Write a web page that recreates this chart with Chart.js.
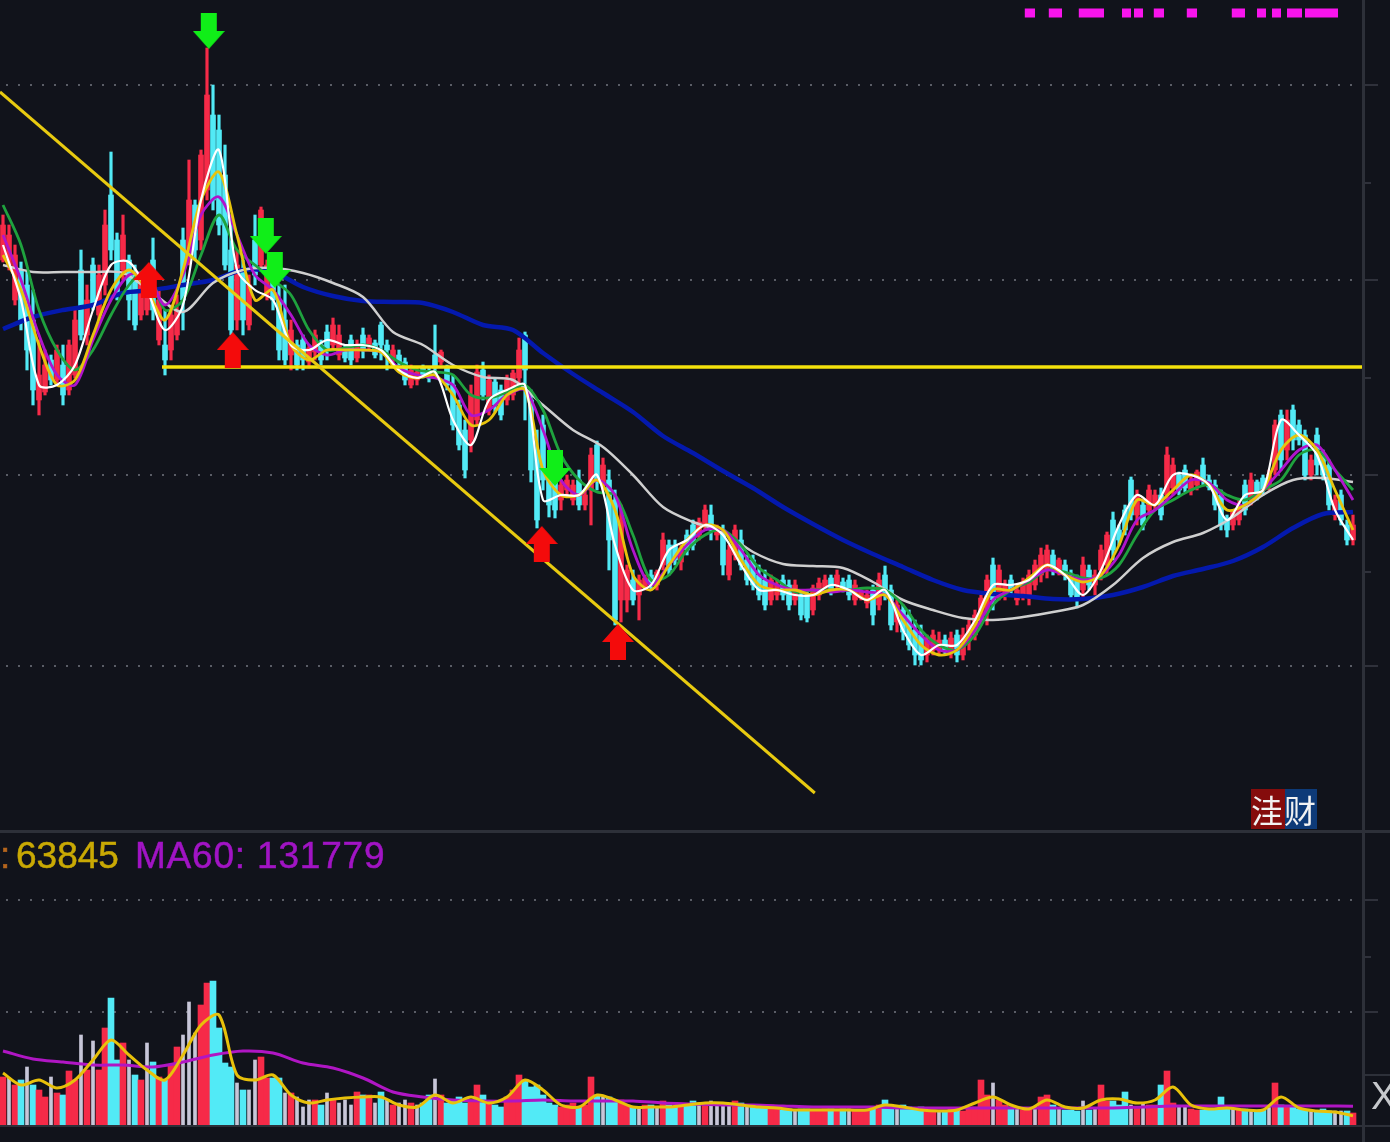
<!DOCTYPE html>
<html>
<head>
<meta charset="utf-8">
<script src="https://cdn.jsdelivr.net/npm/chart.js@4"></script>
<style>
html,body{margin:0;padding:0;background:#11131b;overflow:hidden}
#wrap{position:relative;width:1390px;height:1142px;overflow:hidden;background:#11131b}
canvas{position:absolute;left:0}
.rule{position:absolute;background:#2d3039}
.lbl{position:absolute;top:833px;font:37px/46px "Liberation Sans",sans-serif;white-space:nowrap;-webkit-text-stroke:.5px currentColor}
#logo{position:absolute;left:1251px;top:789px;width:66px;height:40px;font:32px/40px "Noto Sans CJK SC",sans-serif;color:#f2f2f2;text-align:center;letter-spacing:1px;background:linear-gradient(90deg,#850c0c 0,#850c0c 34px,#0d3a78 34px)}
#x{position:absolute;left:1371px;top:1077px;font:38px/38px "Liberation Sans",sans-serif;color:#c6c8cc}
</style>
</head>
<body>
<div id="wrap">
  <canvas id="price" width="1390" height="830" style="top:0"></canvas>
  <canvas id="volume" width="1390" height="310" style="top:832px"></canvas>
  <div class="rule" style="left:0;top:830px;width:1390px;height:3px"></div>
  <div class="rule" style="left:0;top:1125px;width:1390px;height:2px"></div>
  <div class="rule" style="left:1365px;top:1074px;width:25px;height:2px"></div>
  <div class="lbl" style="left:0;color:#b5651d">:</div>
  <div class="lbl" style="left:16px;color:#c9a904">63845</div>
  <div class="lbl" style="left:135px;color:#a114c4;letter-spacing:.8px">MA60: 131779</div>
  <div id="logo">洼财</div>
  <div id="x">X</div>
</div>
<script>
const highs = [615,605,585,568,560,540,490,480,475,485,
485,490,520,580,545,572,565,620,678,597,
615,575,565,555,560,592,540,520,525,535,
602,670,630,680,782,745,715,685,615,580,
570,555,615,623,570,560,545,545,510,490,
495,485,500,490,505,512,505,485,495,490,
502,495,490,508,490,485,480,472,465,462,
465,462,505,480,465,455,430,410,445,465,
468,455,452,445,455,460,492,498,440,400,
415,360,360,350,355,350,360,340,382,389,
372,360,340,325,265,260,255,255,260,260,
297,290,290,285,300,310,312,325,325,305,
305,285,305,300,275,275,265,260,255,250,
255,250,250,240,240,245,252,255,255,260,
252,255,250,240,240,245,257,264,245,230,
225,220,210,205,195,200,198,195,198,200,
202,210,220,235,255,272,265,250,255,245,
252,260,270,282,285,280,272,270,260,255,
273,265,260,285,298,318,305,325,353,340,
330,345,340,342,383,372,358,365,355,360,
372,355,350,340,315,320,330,350,357,350,
355,360,410,420,420,425,410,400,375,402,
380,370,335,340,310,315];
const lows = [568,560,525,500,460,425,415,435,445,445,
425,435,452,490,485,520,510,535,570,530,
550,510,500,510,515,510,485,455,470,490,
500,565,570,580,630,620,595,560,495,500,
495,500,545,560,530,520,470,465,460,460,
460,462,470,465,470,480,470,468,465,468,
472,480,472,470,460,468,465,445,442,445,
452,448,455,465,440,400,380,352,378,405,
430,415,418,410,425,430,445,410,348,302,
340,313,312,320,335,325,320,320,305,340,
340,260,205,208,218,225,210,240,240,240,
260,255,265,260,275,280,290,300,290,290,
255,250,270,260,245,240,230,220,225,230,
230,220,225,210,208,215,230,238,235,240,
238,230,225,230,222,205,220,230,200,198,
190,180,165,165,168,175,175,175,172,168,
170,180,190,205,205,220,230,230,235,225,
230,225,240,248,252,255,255,250,230,222,
230,240,235,250,255,270,285,295,310,305,
300,315,320,310,330,335,335,338,335,340,
345,340,320,300,293,300,305,315,325,330,
335,340,355,360,370,380,385,350,350,355,
350,320,310,305,285,285];
const opens = [570,565,530,560,545,510,430,438,470,450,
465,440,455,560,495,565,515,545,635,590,
560,570,555,515,520,570,490,485,480,495,
590,575,625,590,640,715,700,655,580,510,
560,505,590,565,535,550,530,510,475,485,
490,468,478,485,498,485,475,482,490,472,
495,484,487,505,485,472,475,468,445,450,
462,458,475,468,462,445,425,400,390,410,
460,420,448,440,430,435,452,495,430,380,
405,355,350,330,340,330,350,325,340,385,
345,350,330,230,230,250,235,242,255,245,
265,285,285,268,295,305,295,305,315,295,
300,255,275,290,270,270,255,250,230,235,
250,245,230,235,235,220,235,240,252,245,
248,250,230,232,227,240,225,255,240,208,
220,215,200,195,175,180,180,190,178,195,
175,190,195,210,218,265,238,235,250,230,
235,232,245,255,260,275,260,265,255,250,
240,260,245,260,265,310,300,320,350,315,
325,320,325,335,335,342,355,360,340,345,
365,350,345,335,312,305,310,345,330,348,
352,345,360,415,380,420,405,395,355,395,
375,365,315,335,305,290];
const closes = [605,595,575,510,480,440,455,465,450,480,
435,485,510,495,530,525,555,605,580,535,
595,530,505,550,545,520,530,470,515,520,
530,630,580,675,735,630,605,565,500,565,
510,545,555,620,565,530,480,470,500,465,
470,482,495,470,480,505,495,472,470,485,
480,492,475,485,480,480,468,450,460,458,
455,452,462,478,445,405,385,360,435,458,
435,450,425,415,450,457,480,460,360,310,
350,325,320,345,350,345,325,335,375,350,
365,290,210,310,260,230,250,252,245,258,
290,260,270,282,280,285,308,320,300,302,
265,280,300,265,250,245,235,225,250,245,
235,225,245,215,212,242,247,250,240,255,
240,235,245,238,235,215,250,235,205,225,
198,185,175,170,190,195,190,180,192,175,
195,205,215,232,250,230,260,245,240,240,
248,255,265,275,280,260,270,255,235,230,
265,245,255,280,295,280,290,300,315,335,
305,340,335,315,375,365,340,342,350,358,
350,343,325,305,300,318,325,320,350,335,
340,355,405,370,410,390,390,355,370,365,
355,325,330,310,290,305];

// volume in thousands of shares, same bars as the candles
const volumes = [336,329,280,315,406,280,245,196,336,224,
210,378,315,630,385,588,385,679,889,455,
574,455,350,315,574,441,336,315,420,546,
630,861,644,840,994,1008,679,434,406,294,
245,245,455,476,329,329,329,224,224,196,
126,175,175,140,224,175,154,175,140,231,
210,210,154,231,175,140,154,175,154,140,
154,210,322,210,154,175,196,154,175,280,
210,154,140,126,196,245,350,315,266,280,
210,154,140,126,140,154,126,140,336,210,
196,196,175,175,140,126,126,140,140,126,
168,140,126,140,140,168,154,154,168,140,
154,140,168,154,140,140,126,140,140,126,
105,112,98,112,112,105,98,112,112,98,
112,112,105,98,105,112,140,175,126,112,
140,126,112,126,105,105,98,98,112,112,
98,112,126,315,210,294,175,140,126,112,
105,112,112,196,210,140,112,105,105,98,
168,105,112,280,168,168,140,231,140,126,
154,140,140,280,378,154,126,126,112,105,
105,112,105,196,126,112,112,112,105,105,
105,126,294,140,126,126,112,105,105,98,
112,98,98,98,98,84];

// bars that show as thin pale stripes in the volume pane
const paleBars = [1,4,8,13,15,21,24,30,31,32,39,41,42,47,49,50,51,54,56,57,58,62,64,66,67,69,72,
100,106,109,116,118,119,120,121,124,132,141,149,156,165,169,172,176,180,182,188,190,196,197,205,208,211,218,222,223];

// short averages are sampled every 3 bars
const ma5 = [585,530,445,445,465,520,565,568,540,500,
525,630,680,560,540,530,485,480,490,485,
485,480,460,452,458,410,385,430,440,445,
330,335,335,355,285,240,245,280,290,305,
295,265,240,240,235,235,245,240,230,240,
200,175,185,185,210,245,245,250,265,255,
235,260,305,335,325,355,355,345,310,335,
340,410,395,375,320,290];
const ma10 = [575,540,485,445,450,495,540,560,540,510,
560,630,658,595,530,540,485,470,480,480,
480,478,458,452,455,435,405,410,435,440,
360,335,335,350,320,255,240,265,290,305,
300,270,245,240,240,235,240,240,230,235,
210,185,175,180,205,240,240,252,265,255,
248,255,285,330,325,340,355,345,320,325,
340,380,395,380,340,300];
const ma20 = [595,550,495,455,445,490,530,555,555,525,
555,615,633,595,555,540,515,485,475,480,
480,478,462,455,452,445,415,420,435,440,
400,350,335,350,335,280,245,265,285,300,
300,280,255,245,240,240,238,240,238,235,
215,195,180,180,200,230,240,250,260,255,
250,255,275,310,320,335,350,347,330,325,
340,360,380,385,360,330];
const ma30 = [625,585,520,480,460,480,515,545,560,520,
530,575,615,580,565,550,535,500,480,482,
485,480,468,460,458,455,435,432,438,445,
420,375,350,338,335,295,250,255,280,295,
300,285,262,250,238,240,240,240,242,240,
225,200,185,180,195,225,240,248,260,258,
252,252,265,295,320,330,340,345,335,330,
340,350,375,380,360,340];
const volMa5 = [364,280,315,259,315,455,595,490,385,315,
490,700,770,350,315,350,210,154,175,189,
196,196,140,126,210,154,196,154,196,315,
245,140,126,210,175,126,126,126,140,154,
154,140,126,119,105,105,105,105,105,140,
126,105,98,105,154,196,140,112,175,126,
119,175,182,154,175,266,140,112,119,105,
105,196,119,98,91,63.8];

// long averages are sampled every 5 bars
const ma120 = [565,558,558,558,557,537,518,547,560,562,557,547,533,498,485,465,453,450,425,400,383,355,323,308,298,278,266,264,262,248,230,220,212,210,213,218,225,245,272,288,297,313,335,350,352,348];
const ma250 = [501,513,520,525,537,540,545,550,560,558,543,534,529,528,527,518,505,500,477,456,437,418,394,377,359,342,323,306,290,276,263,250,240,236,234,231,231,235,243,254,261,269,283,302,316,318];
const volMa60 = [518,462,441,420,420,406,441,490,518,504,434,399,329,231,196,175,168,168,175,168,168,168,154,147,140,140,133,126,126,126,119,119,119,119,119,119,119,119,126,133,133,133,133,133,133,131.8];

// hand drawn lines on the chart: bar number, price
const channelBars = [-0.5, 135.3];
const channelPrices = [738, 37];
const supportBars = [26.5, 226.5];
const supportPrices = [463, 463];

// buy and sell arrows
const buyBars = [24.3, 38.3, 89.8, 102.5];
const buyPrices = [550, 480, 286, 188];
const sellBars = [34.3, 43.8, 45.3, 92];
const sellPrices = [799, 594, 560, 362];

// magenta marks along the top: first and last bar of each
const markStart = [170.3,174.3,179.3,186.5,188.5,191.8,197.3,204.8,209,211.5,214,217];
const markEnd = [172,176.5,183.5,188,190,193.5,199,207,210.5,213,216.5,222.5];
const markPrice = 817;

const priceTicks = [745, 550, 355, 164];
const priceMinorTicks = [647, 452, 258];
const volumeTicks = [1575, 791];
const volumeMinorTicks = [1176];

const UP = "#f62a48";
const DOWN = "#52eaf6";
const PALE = "#c7c6d8";
const GRID = "#5a5d66";
const LAST_X = 1363 / 6 - 0.5;

function pts(xs, ys) {
  return ys.map((y, i) => ({ x: xs[i], y: y }));
}
const every3 = ma5.map((v, i) => i * 3);
const every5 = ma120.map((v, i) => i * 5);

function line(xs, ys, color, width, order, tension) {
  return {
    type: "line",
    data: pts(xs, ys),
    borderColor: color,
    borderWidth: width,
    pointRadius: 0,
    tension: tension || 0,
    order: order
  };
}

function arrow(color, up) {
  const c = document.createElement("canvas");
  c.width = 32;
  c.height = 36;
  const g = c.getContext("2d");
  g.fillStyle = color;
  if (!up) {
    g.translate(0, 36);
    g.scale(1, -1);
  }
  g.beginPath();
  g.moveTo(16, 0);
  g.lineTo(32, 18);
  g.lineTo(24, 18);
  g.lineTo(24, 36);
  g.lineTo(8, 36);
  g.lineTo(8, 18);
  g.lineTo(0, 18);
  g.closePath();
  g.fill();
  return c;
}

function arrows(xs, ys, img) {
  return {
    type: "line",
    data: pts(xs, ys),
    showLine: false,
    pointStyle: img,
    pointRadius: 16,
    order: 0
  };
}

// short tick marks on the right axis, no dotted line with these
const minorTickPlugin = {
  id: "minorTicks",
  afterDraw(chart, args, opts) {
    const s = chart.scales.y;
    const g = chart.ctx;
    g.save();
    g.strokeStyle = "#3a3d47";
    g.lineWidth = 1.5;
    opts.values.forEach(v => {
      const y = s.getPixelForValue(v);
      g.beginPath();
      g.moveTo(chart.chartArea.right + 2, y);
      g.lineTo(chart.chartArea.right + 8, y);
      g.stroke();
    });
    g.restore();
  }
};

function options(min, max, ticks, minor) {
  return {
    responsive: false,
    animation: false,
    layout: { autoPadding: false, padding: { left: 0, right: 12, top: 0, bottom: 0 } },
    plugins: {
      legend: { display: false },
      tooltip: { enabled: false },
      minorTicks: { values: minor }
    },
    scales: {
      x: { type: "linear", display: false, offset: false, min: -0.5, max: LAST_X },
      y: {
        position: "right",
        min: min,
        max: max,
        afterBuildTicks: s => { s.ticks = ticks.map(v => ({ value: v })); },
        ticks: { display: false },
        grid: { color: GRID, lineWidth: 2, tickLength: 15, tickColor: "#3a3d47", tickWidth: 1.5 },
        border: { color: "#2d3039", width: 3, dash: [2, 10], dashOffset: -6 }
      }
    }
  };
}

const markPts = [];
markStart.forEach((s, i) => {
  markPts.push({ x: s, y: markPrice }, { x: markEnd[i], y: markPrice }, { x: markEnd[i], y: null });
});

const upOrDown = closes.map((c, i) => (c >= opens[i] ? UP : DOWN));
const idx = closes.map((c, i) => i);
const wideVolume = idx.filter(i => !paleBars.includes(i));

new Chart(document.getElementById("price"), {
  type: "bar",
  data: {
    datasets: [
      { data: idx.map(i => ({ x: i, y: [lows[i], highs[i]] })), backgroundColor: upOrDown, barThickness: 2.5, grouped: false, order: 20 },
      { data: idx.map(i => ({ x: i, y: [opens[i], closes[i]] })), backgroundColor: upOrDown, barThickness: 5, grouped: false, order: 19 },
      line(every5, ma250, "#0419ad", 4.5, 8, 0.3),
      line(every5, ma120, "#cfcfcf", 2.5, 7, 0.3),
      line(every3, ma30, "#1fa23e", 2.8, 6, 0.3),
      line(every3, ma20, "#b014cc", 2.8, 5, 0.3),
      line(every3, ma10, "#e8c40c", 2.8, 4, 0.3),
      line(every3, ma5, "#ffffff", 2.2, 3, 0.3),
      line(channelBars, channelPrices, "#e8ca10", 3, 2),
      line(supportBars, supportPrices, "#f4e20c", 3.5, 2),
      { type: "line", data: markPts, borderColor: "#f814ec", borderWidth: 9, pointRadius: 0, spanGaps: false, order: 1 },
      arrows(buyBars, buyPrices, arrow("#f40b0b", true)),
      arrows(sellBars, sellPrices, arrow("#10ee18", false))
    ]
  },
  options: options(0, 830, priceTicks, priceMinorTicks),
  plugins: [minorTickPlugin]
});

new Chart(document.getElementById("volume"), {
  type: "bar",
  data: {
    datasets: [
      { data: wideVolume.map(i => ({ x: i, y: volumes[i] })), backgroundColor: wideVolume.map(i => upOrDown[i]), barThickness: 6, grouped: false, order: 5 },
      { data: paleBars.map(i => ({ x: i, y: volumes[i] })), backgroundColor: PALE, barThickness: 3, grouped: false, order: 4 },
      line(every5, volMa60, "#b016c4", 3, 2, 0.3),
      line(every3, volMa5, "#e8c10a", 3, 1, 0.3)
    ]
  },
  options: options(-119, 2051, volumeTicks, volumeMinorTicks),
  plugins: [minorTickPlugin]
});
</script>
</body>
</html>
